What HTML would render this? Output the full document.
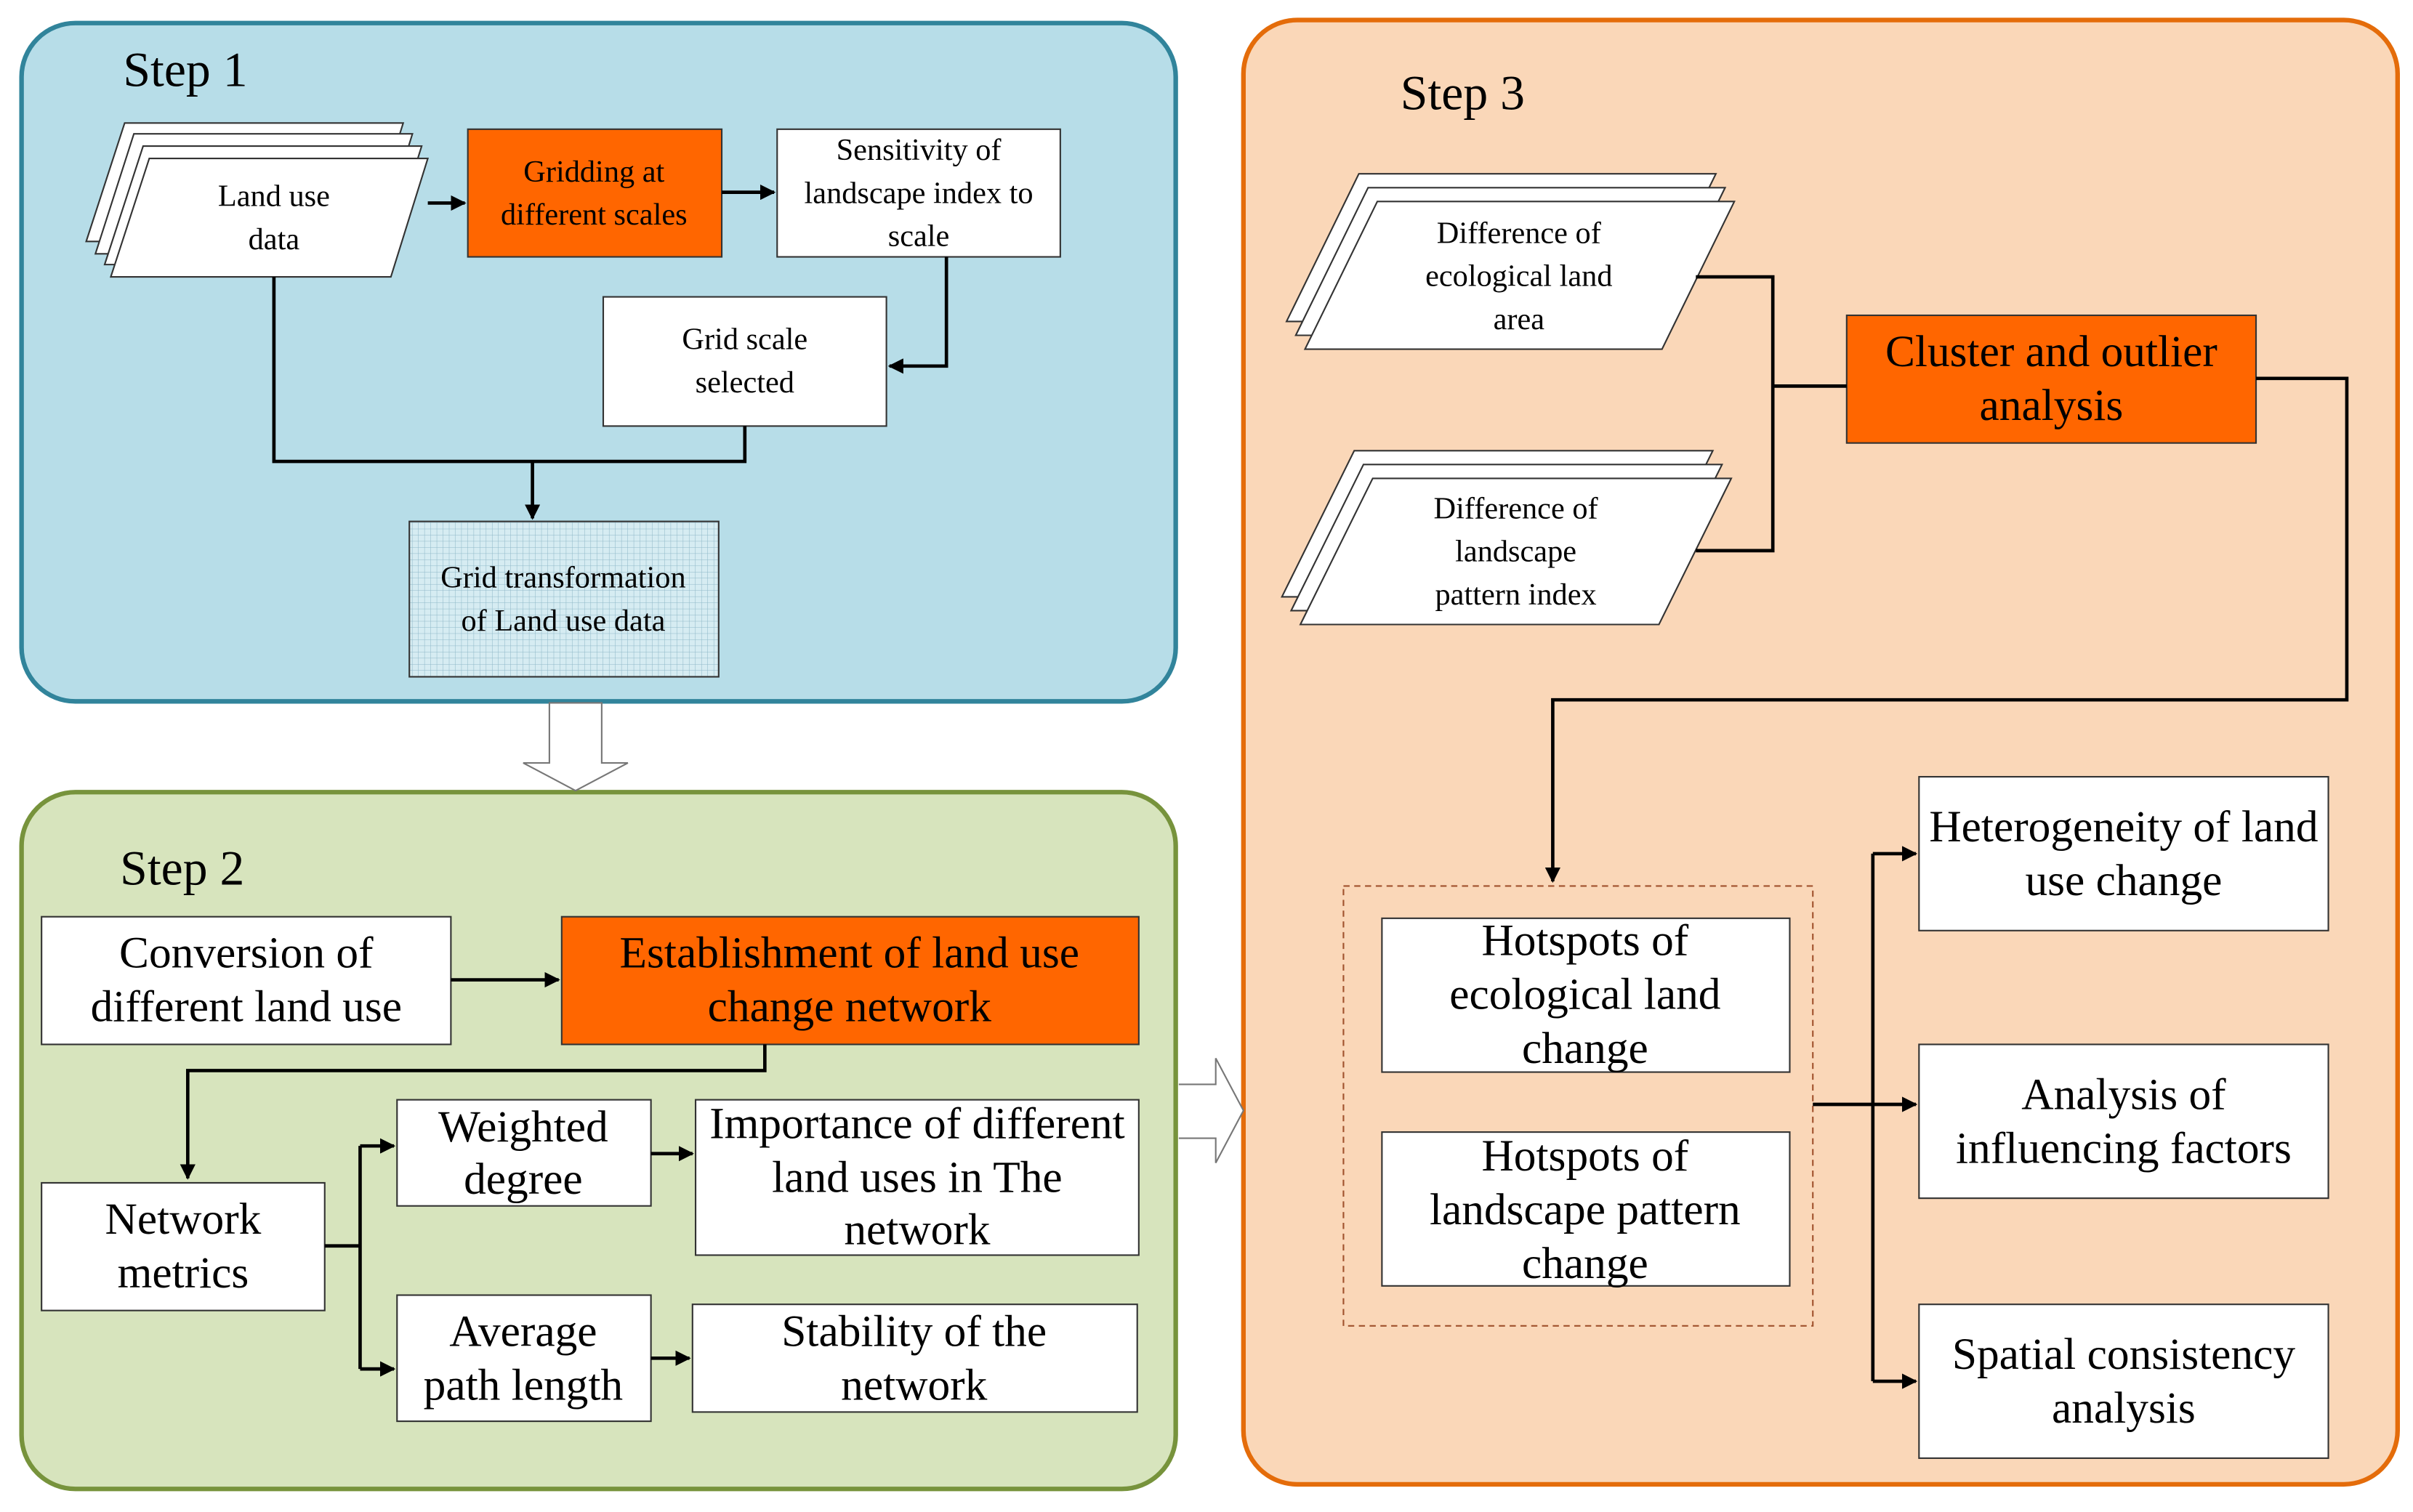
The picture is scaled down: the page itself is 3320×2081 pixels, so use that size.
<!DOCTYPE html>
<html><head><meta charset="utf-8"><style>
html,body{margin:0;padding:0;background:#fff}
svg{display:block}
svg text{font-family:"Liberation Serif",serif;fill:#000}
</style></head><body>
<svg width="3320" height="2081" viewBox="0 0 1568 983" preserveAspectRatio="none" xmlns="http://www.w3.org/2000/svg" font-family="Liberation Serif, serif">
<defs>
<marker id="a" markerWidth="10" markerHeight="10" refX="9" refY="5" orient="auto" markerUnits="userSpaceOnUse"><path d="M0,0 L10,5 L0,10 Z" fill="#000"/></marker>
<pattern id="g" width="4" height="4" patternUnits="userSpaceOnUse"><rect width="4" height="4" fill="#d6ecf2"/><path d="M4,0 V4 M0,4 H4" stroke="#8fb8c8" stroke-width="0.5"/></pattern>
</defs>
<rect width="1568" height="983" fill="#fff"/>
<rect x="14" y="15" width="750" height="441" rx="35" fill="#b7dde8" stroke="#31849b" stroke-width="3"/>
<rect x="14" y="515" width="750" height="453" rx="35" fill="#d7e4bd" stroke="#77933c" stroke-width="3"/>
<rect x="808" y="13" width="750" height="952" rx="35" fill="#fad7b8" stroke="#e46c0a" stroke-width="3"/>

<g font-size="20" text-anchor="middle" stroke="none" font-family="Liberation Serif, serif">
<text x="80" y="56" font-size="32" text-anchor="start">Step 1</text>
<g stroke="#333" stroke-width="1" fill="#fff">
<polygon points="56,157 238,157 262,80 81,80"/>
<polygon points="62,165 244,165 268,87 87,87"/>
<polygon points="68,172 250,172 274,95 93,95"/>
<polygon points="72,180 254,180 278,103 97,103"/>
</g>
<text x="178" y="134">Land use</text><text x="178" y="162">data</text>
<rect x="304" y="84" width="165" height="83" fill="#ff6600" stroke="#333"/>
<text x="386" y="118">Gridding at</text><text x="386" y="146">different scales</text>
<rect x="505" y="84" width="184" height="83" fill="#fff" stroke="#333"/>
<text x="597" y="104">Sensitivity of</text><text x="597" y="132">landscape index to</text><text x="597" y="160">scale</text>
<rect x="392" y="193" width="184" height="84" fill="#fff" stroke="#333"/>
<text x="484" y="227">Grid scale</text><text x="484" y="255">selected</text>
<rect x="266" y="339" width="201" height="101" fill="url(#g)" stroke="#333"/>
<text x="366" y="382">Grid transformation</text><text x="366" y="410">of Land use data</text>
<g stroke="#000" stroke-width="2.2" fill="none">
<path d="M278,132 H302" marker-end="url(#a)"/>
<path d="M469,125 H503" marker-end="url(#a)"/>
<path d="M615,167 V238 H578" marker-end="url(#a)"/>
<path d="M178,180 V300 H484 V277"/>
<path d="M346,300 V337" marker-end="url(#a)"/>
</g>
<path d="M357,457 H391 V496 H408 L374,514 L340,496 H357 Z" fill="#fff" stroke="#777" stroke-width="1"/>

<text x="78" y="575" font-size="32" text-anchor="start">Step 2</text>
<g font-size="29">
<rect x="27" y="596" width="266" height="83" fill="#fff" stroke="#333"/>
<text x="160" y="629">Conversion of</text><text x="160" y="664">different land use</text>
<rect x="365" y="596" width="375" height="83" fill="#ff6600" stroke="#333"/>
<text x="552" y="629">Establishment of land use</text><text x="552" y="664">change network</text>
<rect x="27" y="769" width="184" height="83" fill="#fff" stroke="#333"/>
<text x="119" y="802">Network</text><text x="119" y="837">metrics</text>
<rect x="258" y="715" width="165" height="69" fill="#fff" stroke="#333"/>
<text x="340" y="742">Weighted</text><text x="340" y="776">degree</text>
<rect x="258" y="842" width="165" height="82" fill="#fff" stroke="#333"/>
<text x="340" y="875">Average</text><text x="340" y="910">path length</text>
<rect x="452" y="715" width="288" height="101" fill="#fff" stroke="#333"/>
<text x="596" y="740">Importance of different</text><text x="596" y="775">land uses in The</text><text x="596" y="809">network</text>
<rect x="450" y="848" width="289" height="70" fill="#fff" stroke="#333"/>
<text x="594" y="875">Stability of the</text><text x="594" y="910">network</text>
</g>
<g stroke="#000" stroke-width="2.2" fill="none">
<path d="M293,637 H363" marker-end="url(#a)"/>
<path d="M497,679 V696 H122 V766" marker-end="url(#a)"/>
<path d="M211,810 H234"/>
<path d="M234,745 V890"/>
<path d="M234,745 H256" marker-end="url(#a)"/>
<path d="M234,890 H256" marker-end="url(#a)"/>
<path d="M423,750 H450" marker-end="url(#a)"/>
<path d="M423,883 H448" marker-end="url(#a)"/>
</g>
<path d="M766,705 H790 V688 L808,722 L790,756 V740 H766" fill="#fff" stroke="#777" stroke-width="1"/>

<text x="910" y="71" font-size="32" text-anchor="start">Step 3</text>
<g stroke="#333" stroke-width="1" fill="#fff">
<polygon points="836,209 1068,209 1115,113 883,113"/>
<polygon points="842,218 1074,218 1121,122 889,122"/>
<polygon points="848,227 1080,227 1127,131 895,131"/>
<polygon points="833,388 1066,388 1113,293 880,293"/>
<polygon points="839,397 1072,397 1119,302 886,302"/>
<polygon points="845,406 1078,406 1125,311 892,311"/>
</g>
<text x="987" y="158">Difference of</text><text x="987" y="186">ecological land</text><text x="987" y="214">area</text>
<text x="985" y="337">Difference of</text><text x="985" y="365">landscape</text><text x="985" y="393">pattern index</text>
<g font-size="29">
<rect x="1200" y="205" width="266" height="83" fill="#ff6600" stroke="#333"/>
<text x="1333" y="238">Cluster and outlier</text><text x="1333" y="273">analysis</text>
<rect x="873" y="576" width="305" height="286" fill="none" stroke="#a0522d" stroke-dasharray="4,3"/>
<rect x="898" y="597" width="265" height="100" fill="#fff" stroke="#333"/>
<text x="1030" y="621">Hotspots of</text><text x="1030" y="656">ecological land</text><text x="1030" y="691">change</text>
<rect x="898" y="736" width="265" height="100" fill="#fff" stroke="#333"/>
<text x="1030" y="761">Hotspots of</text><text x="1030" y="796">landscape pattern</text><text x="1030" y="831">change</text>
<rect x="1247" y="505" width="266" height="100" fill="#fff" stroke="#333"/>
<text x="1380" y="547">Heterogeneity of land</text><text x="1380" y="582">use change</text>
<rect x="1247" y="679" width="266" height="100" fill="#fff" stroke="#333"/>
<text x="1380" y="721">Analysis of</text><text x="1380" y="756">influencing factors</text>
<rect x="1247" y="848" width="266" height="100" fill="#fff" stroke="#333"/>
<text x="1380" y="890">Spatial consistency</text><text x="1380" y="925">analysis</text>
</g>
<g stroke="#000" stroke-width="2.2" fill="none">
<path d="M1102,180 H1152 V358 H1102"/>
<path d="M1152,251 H1200"/>
<path d="M1466,246 H1525 V455 H1009 V573" marker-end="url(#a)"/>
<path d="M1178,718 H1245" marker-end="url(#a)"/>
<path d="M1217,555 V898"/>
<path d="M1217,555 H1245" marker-end="url(#a)"/>
<path d="M1217,898 H1245" marker-end="url(#a)"/>
</g>
</g>
</svg>
</body></html>
